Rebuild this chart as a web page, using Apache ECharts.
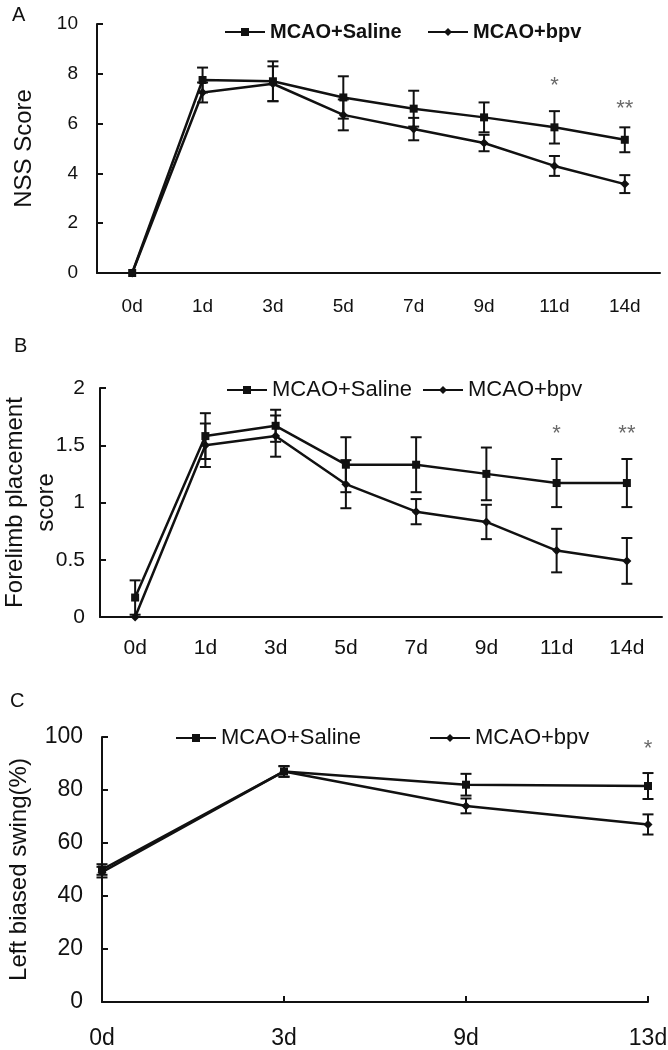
<!DOCTYPE html>
<html>
<head>
<meta charset="utf-8">
<script src="https://cdn.jsdelivr.net/npm/echarts@6/dist/echarts.min.js"></script>
<style>
html,body{margin:0;padding:0;background:#fff;}
#chart{width:668px;height:1050px;}
</style>
</head>
<body>
<div id="chart"></div>
<script>
// ---- Data ----
const catsAB = ['0d','1d','3d','5d','7d','9d','11d','14d'];
const catsC = ['0d','3d','9d','13d'];

const nssSaline    = [0, 7.75, 7.7, 7.05, 6.6, 6.25, 5.85, 5.35];
const nssSalineErr = [0, 0.5, 0.8, 0.85, 0.72, 0.6, 0.65, 0.5];
const nssBpv       = [0, 7.25, 7.6, 6.35, 5.78, 5.22, 4.3, 3.57];
const nssBpvErr    = [0, 0.4, 0.7, 0.62, 0.45, 0.33, 0.4, 0.36];

const flpSaline    = [0.17, 1.58, 1.67, 1.33, 1.33, 1.25, 1.17, 1.17];
const flpSalineErr = [0.15, 0.2, 0.14, 0.24, 0.24, 0.23, 0.21, 0.21];
const flpBpv       = [0, 1.5, 1.58, 1.16, 0.92, 0.83, 0.58, 0.49];
const flpBpvErr    = [0, 0.19, 0.18, 0.21, 0.11, 0.15, 0.19, 0.2];

const lbsSaline    = [50, 87, 82, 81.5];
const lbsSalineErr = [2, 2, 4.1, 4.9];
const lbsBpv       = [49, 87, 74, 67];
const lbsBpvErr    = [2, 2, 2.8, 3.8];

const starsA = [['11d', 7.5, '*'], ['14d', 6.6, '**']];
const starsB = [['11d', 1.6, '*'], ['14d', 1.6, '**']];
const starsC = [['13d', 95.5, '*']];

const nameSaline = 'MCAO+Saline';
const nameBpv = 'MCAO+bpv';

// ---- Helpers ----
const FONT = "'Liberation Sans', Arial, sans-serif";
const INK = '#111';

function errData(vals, errs) {
  return vals.map((v, i) => [i, v - errs[i], v + errs[i]]);
}
function renderErr(params, api) {
  const x = api.value(0);
  const lo = api.coord([x, api.value(1)]);
  const hi = api.coord([x, api.value(2)]);
  const w = 5.5;
  const st = { stroke: INK, lineWidth: 2 };
  return {
    type: 'group',
    children: [
      { type: 'line', shape: { x1: lo[0], y1: lo[1], x2: hi[0], y2: hi[1] }, style: st },
      { type: 'line', shape: { x1: hi[0] - w, y1: hi[1], x2: hi[0] + w, y2: hi[1] }, style: st },
      { type: 'line', shape: { x1: lo[0] - w, y1: lo[1], x2: lo[0] + w, y2: lo[1] }, style: st }
    ]
  };
}
function lineSeries(name, data, idx, symbol, size) {
  return {
    type: 'line', name: name, data: data,
    xAxisIndex: idx, yAxisIndex: idx,
    symbol: symbol, symbolSize: size,
    itemStyle: { color: INK },
    lineStyle: { color: INK, width: 2.5 },
    z: 3, animation: false
  };
}
function errSeries(name, vals, errs, idx) {
  return {
    type: 'custom', name: name, renderItem: renderErr,
    data: errData(vals, errs),
    xAxisIndex: idx, yAxisIndex: idx,
    encode: { x: 0, y: [1, 2] }, z: 4, animation: false, silent: true
  };
}
function starSeries(stars, idx) {
  return {
    type: 'scatter', data: stars.map(s => [s[0], s[1], s[2]]),
    xAxisIndex: idx, yAxisIndex: idx, symbolSize: 0,
    label: { show: true, position: 'inside', formatter: p => p.data[2],
             color: '#444', fontSize: 22, fontFamily: FONT },
    silent: true, animation: false
  };
}
function xAxisDef(cats, idx, boundaryGap, fs, margin) {
  return {
    type: 'category', gridIndex: idx, data: cats, boundaryGap: boundaryGap,
    axisLine: { lineStyle: { color: INK, width: 2 } },
    axisTick: { inside: true, length: 6, lineStyle: { color: INK, width: 2 }, alignWithLabel: !boundaryGap },
    axisLabel: { color: INK, fontSize: fs, fontFamily: FONT, margin: margin },
    splitLine: { show: false }
  };
}
function yAxisDef(idx, min, max, interval, name, nameGap, fs, nfs, lh, margin) {
  return {
    type: 'value', gridIndex: idx, min: min, max: max, interval: interval,
    name: name, nameLocation: 'middle', nameGap: nameGap, nameRotate: 90,
    nameMoveOverlap: false,
    nameTextStyle: { color: INK, fontSize: nfs, fontFamily: FONT, lineHeight: lh },
    axisLine: { show: true, lineStyle: { color: INK, width: 2 } },
    axisTick: { show: true, inside: true, length: 6, lineStyle: { color: INK, width: 2 } },
    axisLabel: { color: INK, fontSize: fs, fontFamily: FONT, margin: margin },
    splitLine: { show: false }
  };
}
function legendDef(name, left, top, fs, weight) {
  return {
    data: [name], left: left, top: top, orient: 'horizontal',
    itemWidth: 40, itemHeight: 10, itemGap: 0, padding: 0,
    textStyle: { color: INK, fontSize: fs, fontFamily: FONT, fontWeight: weight },
    selectedMode: false
  };
}
function gridDef(left, right, top, height) {
  return { left: left, right: right, top: top, height: height,
           containLabel: false, outerBoundsMode: 'none' };
}

const chart = echarts.init(document.getElementById('chart'), null, { renderer: 'canvas' });
chart.setOption({
  backgroundColor: '#fff',
  animation: false,
  graphic: [
    { type: 'text', left: 12, top: 5, style: { text: 'A', fontSize: 20, fontFamily: FONT, fill: INK } },
    { type: 'text', left: 14, top: 336, style: { text: 'B', fontSize: 20, fontFamily: FONT, fill: INK } },
    { type: 'text', left: 10, top: 691, style: { text: 'C', fontSize: 20, fontFamily: FONT, fill: INK } }
  ],
  legend: [
    legendDef(nameSaline, 224, 22, 20, 'bold'),
    legendDef(nameBpv, 427, 22, 20, 'bold'),
    legendDef(nameSaline, 226, 379, 22, 'normal'),
    legendDef(nameBpv, 422, 379, 22, 'normal'),
    legendDef(nameSaline, 175, 727, 22, 'normal'),
    legendDef(nameBpv, 429, 727, 22, 'normal')
  ],
  grid: [
    gridDef(97, 8, 24, 249),
    gridDef(100, 6, 388, 229),
    gridDef(102, 20, 737, 265)
  ],
  xAxis: [
    xAxisDef(catsAB, 0, true, 19, 24),
    xAxisDef(catsAB, 1, true, 21, 21),
    xAxisDef(catsC, 2, false, 23, 25)
  ],
  yAxis: [
    yAxisDef(0, 0, 10, 2, 'NSS Score', 59, 19, 24, 28, 19),
    yAxisDef(1, 0, 2, 0.5, 'Forelimb placement\nscore', 38, 21, 24, 31, 15),
    yAxisDef(2, 0, 100, 20, 'Left biased swing(%)', 69, 23, 24, 28, 19)
  ],
  series: [
    lineSeries(nameSaline, nssSaline, 0, 'rect', 8),
    lineSeries(nameBpv, nssBpv, 0, 'diamond', 9),
    errSeries(nameSaline, nssSaline, nssSalineErr, 0),
    errSeries(nameBpv, nssBpv, nssBpvErr, 0),
    starSeries(starsA, 0),

    lineSeries(nameSaline, flpSaline, 1, 'rect', 8),
    lineSeries(nameBpv, flpBpv, 1, 'diamond', 9),
    errSeries(nameSaline, flpSaline, flpSalineErr, 1),
    errSeries(nameBpv, flpBpv, flpBpvErr, 1),
    starSeries(starsB, 1),

    lineSeries(nameSaline, lbsSaline, 2, 'rect', 8),
    lineSeries(nameBpv, lbsBpv, 2, 'diamond', 9),
    errSeries(nameSaline, lbsSaline, lbsSalineErr, 2),
    errSeries(nameBpv, lbsBpv, lbsBpvErr, 2),
    starSeries(starsC, 2)
  ]
});
</script>
</body>
</html>
